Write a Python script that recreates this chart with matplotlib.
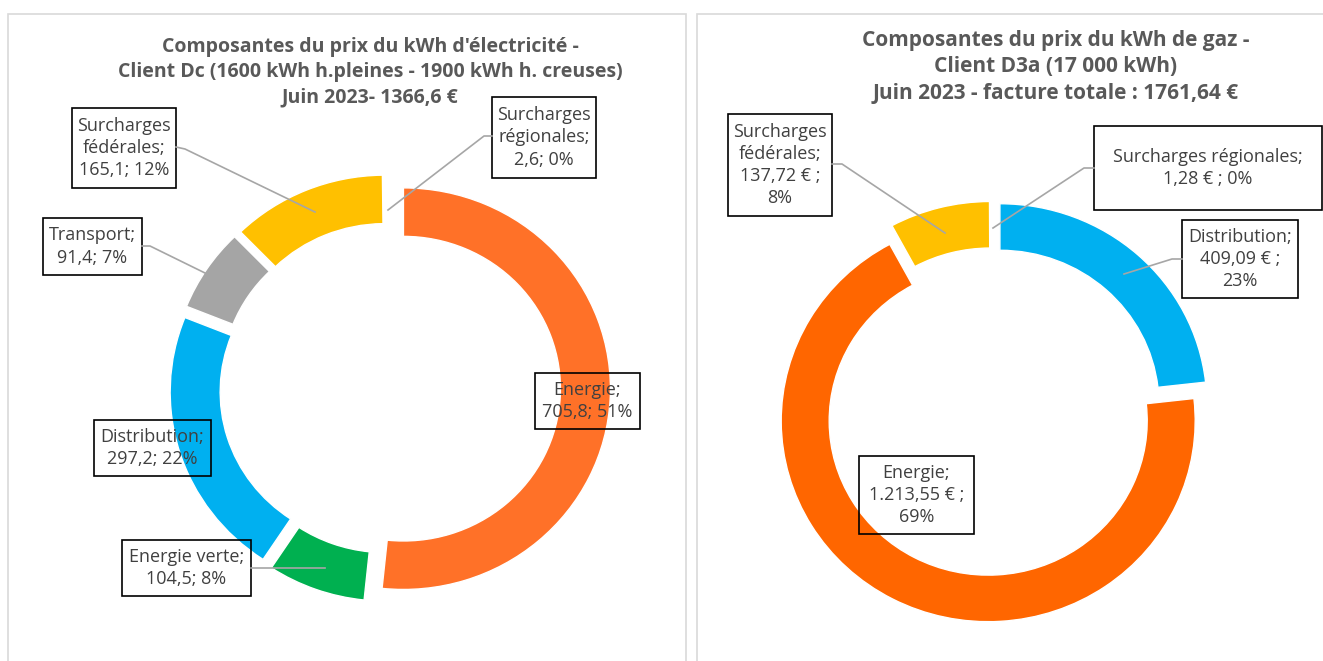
import matplotlib
matplotlib.use('Agg')
import matplotlib.pyplot as plt
from matplotlib import font_manager
from matplotlib.patches import Rectangle
from matplotlib.lines import Line2D

# Data
elec_names = ['Energie', 'Energie verte', 'Distribution', 'Transport',
              'Surcharges\nfédérales', 'Surcharges\nrégionales']
elec_values = [705.8, 104.5, 297.2, 91.4, 165.1, 2.6]
elec_pct = [51, 8, 22, 7, 12, 0]
elec_colors = ['#FF7128', '#00B050', '#00B0F0', '#A5A5A5', '#FFC000', '#FFFFFF']

gas_names = ['Distribution', 'Energie', 'Surcharges\nfédérales', 'Surcharges régionales']
gas_values = [409.09, 1213.55, 137.72, 1.28]
gas_pct = [23, 69, 8, 0]
gas_colors = ['#00B0F0', '#FF6600', '#FFC000', '#FFFFFF']
gas_wrap = ['\n', '\n', '\n', ' ']

elec_title = ("Composantes du prix du kWh d'électricité -\n"
              "Client Dc (1600 kWh h.pleines - 1900 kWh h. creuses)\n"
              "Juin 2023- 1366,6 €")
gas_title = ("Composantes du prix du kWh de gaz -\n"
             "Client D3a (17 000 kWh)\n"
             "Juin 2023 - facture totale : 1761,64 €")

W, H = 1323, 661
available = {f.name for f in font_manager.fontManager.ttflist}
FONT = 'Liberation Sans Narrow' if 'Liberation Sans Narrow' in available else 'Open Sans'
plt.rcParams['font.family'] = [FONT, 'DejaVu Sans']

fig = plt.figure(figsize=(W / 100, H / 100), dpi=100)


def fx(x):
    return x / W


def fy(y):
    return 1 - y / H


def fmt_fr(v, dec):
    s = f'{v:,.{dec}f}'
    return s.replace(',', ' ').replace('.', ',').replace(' ', '.')


# panel frames
for x0, x1 in [(8, 686), (697, 1330)]:
    fig.patches.append(Rectangle((fx(x0), fy(670)), fx(x1) - fx(x0), fy(14) - fy(670),
                                 transform=fig.transFigure, fill=False,
                                 edgecolor='#D9D9D9', lw=1.2))


def donut(cx, cy, R, ring, explode, values, colors, squash=0.97):
    # the reference is slightly flattened vertically
    S = R * 1.2
    Sy = S * squash
    ax = fig.add_axes([fx(cx - S), fy(cy + Sy), 2 * S / W, 2 * Sy / H])
    ax.pie(values, colors=colors, startangle=90, counterclock=False, radius=1,
           explode=[explode] * len(values),
           wedgeprops=dict(width=ring / R, edgecolor='white', linewidth=1))
    ax.set_xlim(-S / R, S / R)
    ax.set_ylim(-S / R, S / R)
    ax.set_aspect('auto')
    ax.axis('off')


donut(390, 388, 207, 50, 0.065, elec_values, elec_colors)
donut(993, 412, 207, 48, 0.05, gas_values, gas_colors)

# titles
fig.text(fx(370), fy(72), elec_title, ha='center', va='center', fontsize=14,
         fontweight='bold', color='#595959', linespacing=1.35)
fig.text(fx(1056), fy(67), gas_title, ha='center', va='center', fontsize=15,
         fontweight='bold', color='#595959', linespacing=1.35)

# label boxes (x0, y0, x1, y1) and leader lines, in pixels
elec_boxes = [(535, 373, 640, 429), (122, 540, 251, 596), (94, 420, 211, 476),
              (43, 218, 142, 275), (72, 108, 176, 188), (492, 97, 596, 178)]
elec_leaders = [None, [(251, 568), (325, 568)], None,
                [(142, 246), (150, 246), (205, 273)],
                [(176, 147), (185, 149), (315, 212)],
                [(492, 136), (484, 136), (388, 210)]]
gas_boxes = [(1182, 220, 1298, 298), (859, 456, 974, 534), (728, 114, 832, 216),
             (1094, 126, 1322, 210)]
gas_leaders = [[(1182, 259), (1172, 259), (1124, 274)], None,
               [(832, 164), (842, 164), (945, 233)],
               [(1094, 168), (1084, 168), (993, 228)]]

elec_labels = [f'{n};\n{fmt_fr(v, 1)}; {p}%' for n, v, p in zip(elec_names, elec_values, elec_pct)]
gas_labels = [f'{n};\n{fmt_fr(v, 2)} € ;{w}{p}%'
              for n, v, p, w in zip(gas_names, gas_values, gas_pct, gas_wrap)]

for labels, boxes, leaders in [(elec_labels, elec_boxes, elec_leaders),
                               (gas_labels, gas_boxes, gas_leaders)]:
    for lab, (x0, y0, x1, y1), lead in zip(labels, boxes, leaders):
        if lead is not None:
            fig.lines.append(Line2D([fx(p[0]) for p in lead], [fy(p[1]) for p in lead],
                                    transform=fig.transFigure, color='#A6A6A6', lw=1.2))
        fig.patches.append(Rectangle((fx(x0), fy(y1)), fx(x1) - fx(x0), fy(y0) - fy(y1),
                                     transform=fig.transFigure, fill=False,
                                     edgecolor='black', lw=1.2))
        fig.text(fx((x0 + x1) / 2), fy((y0 + y1) / 2), lab, ha='center', va='center',
                 fontsize=13, color='#404040', linespacing=1.3)

fig.savefig('out.png', dpi=100, facecolor='white')
